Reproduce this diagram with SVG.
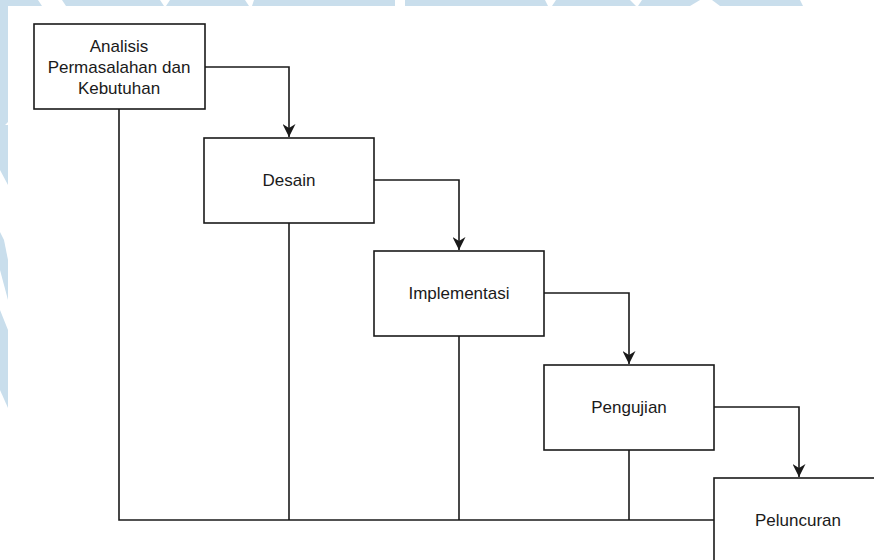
<svg xmlns="http://www.w3.org/2000/svg" width="874" height="560" viewBox="0 0 874 560">
<defs>
<style>
.box{fill:#ffffff;stroke:#1a1a1a;stroke-width:1.6}
.lbl{font-family:"Liberation Sans",Arial,sans-serif;font-size:17px;fill:#1a1a1a;text-anchor:middle;dominant-baseline:central}
.ln{fill:none;stroke:#1a1a1a;stroke-width:1.6}
.wm{fill:#c9deec}
</style>
<marker id="arr" viewBox="0 0 10 10" refX="10" refY="5" markerWidth="13" markerHeight="13" markerUnits="userSpaceOnUse" orient="auto">
<path d="M0,0 L10,5 L0,10 L3,5 Z" fill="#1a1a1a"/>
</marker>
</defs>
<rect width="874" height="560" fill="#ffffff"/>
<g id="watermark">
<path class="wm" d="M0,0 H38 L42,6 H8 V0 Z"/>
<path class="wm" d="M62,0 H160 L164,6 H66 Z"/>
<path class="wm" d="M170,0 H245 L249,6 H166 Z"/>
<path class="wm" d="M254,0 H395 V6 H252 Z"/>
<path class="wm" d="M405,0 H545 L548,6 H405 Z"/>
<path class="wm" d="M556,0 H630 L636,6 H552 Z"/>
<path class="wm" d="M642,0 H700 L690,6 H638 Z"/>
<path class="wm" d="M712,0 H800 L803,6 H720 Z"/>
<path class="wm" d="M0,0 H8 V122 L5,125 H8 V185 L0,170 Z"/>
<path class="wm" d="M0,232 L4,240 L8,260 V300 L0,270 Z"/>
<path class="wm" d="M0,310 L8,330 V408 L0,390 Z"/>
</g>
<g id="connectors">
<path class="ln" d="M205,67 H289 V137" marker-end="url(#arr)"/>
<path class="ln" d="M374,180 H459 V250" marker-end="url(#arr)"/>
<path class="ln" d="M544,293 H629 V364" marker-end="url(#arr)"/>
<path class="ln" d="M714,407 H799 V477" marker-end="url(#arr)"/>
<path class="ln" d="M119,109 V520 H714"/>
<path class="ln" d="M289,223 V520"/>
<path class="ln" d="M459,336 V520"/>
<path class="ln" d="M629,450 V520"/>
</g>
<g id="node-analisis">
<rect class="box" x="34" y="24" width="171" height="85"/>
<text class="lbl" x="119" y="46">Analisis</text>
<text class="lbl" x="119" y="67">Permasalahan dan</text>
<text class="lbl" x="119" y="88">Kebutuhan</text>
</g>
<g id="node-desain">
<rect class="box" x="204" y="138" width="170" height="85"/>
<text class="lbl" x="289" y="180">Desain</text>
</g>
<g id="node-implementasi">
<rect class="box" x="374" y="251" width="170" height="85"/>
<text class="lbl" x="459" y="293">Implementasi</text>
</g>
<g id="node-pengujian">
<rect class="box" x="544" y="365" width="170" height="85"/>
<text class="lbl" x="629" y="407">Pengujian</text>
</g>
<g id="node-peluncuran">
<rect class="box" x="714" y="478" width="170" height="85"/>
<text class="lbl" x="798" y="520">Peluncuran</text>
</g>
</svg>
